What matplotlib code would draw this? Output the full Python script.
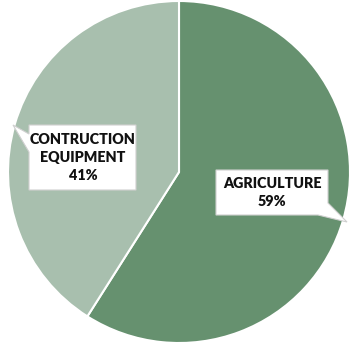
import matplotlib
matplotlib.use("Agg")
import matplotlib.pyplot as plt
from matplotlib.patches import Polygon

labels = ["AGRICULTURE", "CONTRUCTION\nEQUIPMENT"]
values = [59, 41]
colors = ["#66916F", "#A8BFAE"]

W, H = 349, 346
fig = plt.figure(figsize=(W / 100, H / 100), dpi=100)
ax = fig.add_axes([0, 0, 1, 1])

cx, cy, r = 179, 172, 171
ax.pie(values, colors=colors, startangle=90, counterclock=False,
       center=(cx, H - cy), radius=r,
       wedgeprops=dict(edgecolor="white", linewidth=1.5))
ax.set_xlim(0, W)
ax.set_ylim(0, H)
ax.set_aspect("equal")
ax.axis("off")

def callout(pts):
    poly = Polygon([(x, H - y) for x, y in pts], closed=True, facecolor="white",
                   edgecolor="#D0D0D0", linewidth=0.8, zorder=3)
    ax.add_patch(poly)

# construction callout
callout([(29, 125), (136, 125), (136, 190), (29, 190), (29, 152), (13, 125), (29, 134)])
# agriculture callout
callout([(216, 170), (328, 170), (328, 203), (347, 222), (318, 215), (216, 215)])

font = dict(family="Lato", weight="heavy", fontsize=10.3, color="#111111",
            ha="center", va="center", linespacing=1.5, zorder=4)
ax.text(83, H - 157.5, f"{labels[1]}\n{values[1]}%", **font)
ax.text(272, H - 192.5, f"{labels[0]}\n{values[0]}%", **font)

fig.savefig("out.png", dpi=100)
